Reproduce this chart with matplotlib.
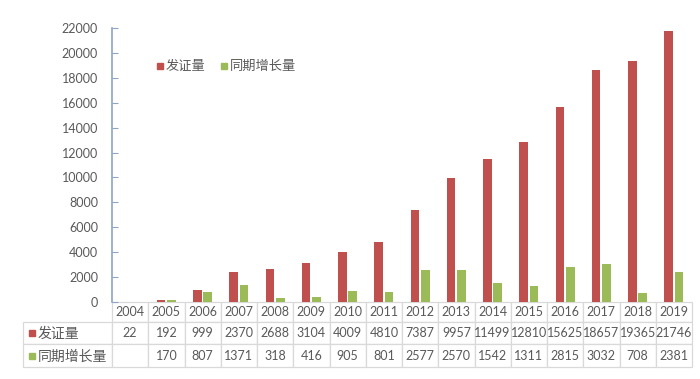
import matplotlib
matplotlib.use('Agg')
import matplotlib.pyplot as plt
import numpy as np
from matplotlib.patches import Rectangle

plt.rcParams['font.family'] = ['Lato', 'Noto Sans CJK SC', 'DejaVu Sans']

years = ['2004', '2005', '2006', '2007', '2008', '2009', '2010', '2011',
         '2012', '2013', '2014', '2015', '2016', '2017', '2018', '2019']
issued = [22, 192, 999, 2370, 2688, 3104, 4009, 4810, 7387, 9957, 11499,
          12810, 15625, 18657, 19365, 21746]
growth = [np.nan, 170, 807, 1371, 318, 416, 905, 801, 2577, 2570, 1542,
          1311, 2815, 3032, 708, 2381]
series_names = ['发证量', '同期增长量']

red = '#C0504D'
green = '#9BBB59'
txt = '#595959'
grid_c = '#D9D9D9'

W, H = 700, 379
fig = plt.figure(figsize=(7, 3.79), dpi=100)
ax_l, ax_r, ax_b, ax_t = 112, 692, 302, 28
ax = fig.add_axes([ax_l / W, 1 - ax_b / H, (ax_r - ax_l) / W, (ax_b - ax_t) / H])

x = np.arange(len(years))
bw = 0.24
ax.bar(x - 0.145, issued, bw, color=red)
ax.bar(x + 0.14, growth, bw, color=green)

ax.set_xlim(-0.5, len(years) - 0.5)
ax.set_ylim(0, 22000)
ax.set_yticks(np.arange(0, 22001, 2000))
ax.tick_params(axis='y', direction='in', length=4, color='#8EA4C4',
               labelsize=9, labelcolor=txt, pad=10)
ax.set_xticks([])
for s in ['top', 'right', 'bottom']:
    ax.spines[s].set_visible(False)
ax.spines['left'].set_color('#8EA4C4')
ax.spines['left'].set_linewidth(1.2)

# legend
for i, (name, c) in enumerate(zip(series_names, [red, green])):
    lx = [157, 221][i]
    fig.patches.append(Rectangle((lx / W, 1 - 69 / H), 6 / W, 6 / H,
                                 transform=fig.transFigure, color=c))
    fig.text((lx + 9) / W, 1 - 66 / H, name, fontsize=9.5, color=txt,
             va='center', ha='left')

# data table
cells = [[''] + years,
         [''] + [str(v) for v in issued],
         [''] + ['' if np.isnan(v) else str(int(v)) for v in growth]]
tx0 = 23
label_w = ax_l - tx0
col_w = (ax_r - ax_l) / len(years)
widths = [label_w] + [col_w] * len(years)
axw = ax_r - ax_l
axh = ax_b - ax_t
t_top, t_bot = 302, 367
tbl = ax.table(cellText=cells, cellLoc='center', colWidths=[w / axw for w in widths],
               bbox=[(tx0 - ax_l) / axw, -(t_bot - t_top) / axh,
                     (ax_r - tx0) / axw, (t_bot - t_top) / axh])
tbl.auto_set_font_size(False)
tbl.set_fontsize(9)
row_h = [20, 22, 23]
for (r, c), cell in tbl.get_celld().items():
    cell.set_height(row_h[r] / axh)
    cell.set_edgecolor(grid_c)
    cell.set_linewidth(0.9)
    cell.PAD = 0.02
    cell.get_text().set_color(txt)
    if r == 0 and c == 0:
        cell.visible_edges = ''

# row labels with colour keys
row_y = [333, 356]
for name, c, yy in zip(series_names, [red, green], row_y):
    fig.patches.append(Rectangle((29 / W, 1 - (yy + 3) / H), 6 / W, 6 / H,
                                 transform=fig.transFigure, color=c))
    fig.text(38 / W, 1 - yy / H, name, fontsize=10, color=txt,
             va='center', ha='left')

fig.savefig('out.png', dpi=100)
